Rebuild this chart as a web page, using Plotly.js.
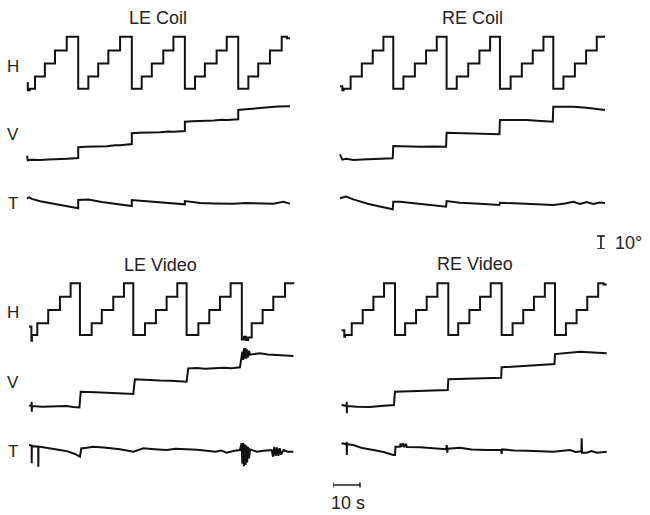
<!DOCTYPE html>
<html>
<head>
<meta charset="utf-8">
<script src="https://cdn.plot.ly/plotly-3.0.1.min.js"></script>
<style>html,body{margin:0;padding:0;background:#fff;}#chart{width:650px;height:515px;}</style>
</head>
<body>
<div id="chart"></div>
<script>
// ---------------- DATA (time in s, position in degrees) ----------------
// LE Coil
const leCoilH_t   = [0, 0.3, 1.0, 3.0, 6.7, 10.5, 14.9, 19.2, 23.0, 26.7, 30.5, 34.9, 39.3, 43.0, 46.8, 51.1, 54.9, 59.2, 63.0, 66.7, 71.1, 74.9, 79.2, 83.0, 86.7, 91.1, 95.5, 97.5, 98.6];
const leCoilH_deg = [-15, -20.5, -19.5, -10, 0, 10, 20.5, -19.5, -10, 0, 10, 20.5, -19.5, -10, 0, 10, 20.5, -19.5, -10, 0, 10, 20.5, -19.5, -10, 0, 10, 20.5, 19.5, 19.5];
const leCoilV_t   = [0, 0.3, 1.5, 5, 8, 10, 13, 15, 19.2, 19.2, 22, 25, 28, 30, 33, 35, 39.3, 39.3, 42, 45, 48, 50, 53, 55, 59.2, 59.2, 62, 65, 68, 70, 73, 75, 79.2, 79.2, 82, 86, 90, 94, 98.6];
const leCoilV_deg = [-17.5, -21, -20.5, -20.8, -20.4, -20.3, -20.0, -19.8, -19.2, -11, -10.6, -10.5, -10.0, -10.2, -9.4, -9.5, -8.5, -0.2, 0.2, 0.3, 0.8, 0.6, 1.2, 1.0, 1.5, 8.7, 9.1, 9.2, 9.7, 9.6, 10.2, 10.0, 10.5, 17.7, 18.2, 19.0, 19.8, 20.4, 20.6];
const leCoilT_t   = [0, 0.8, 1.8, 5, 10, 15, 19.2, 19.2, 21, 23, 28, 33, 39.3, 39.3, 43.6, 50, 59.2, 59.2, 65, 70, 77.4, 82, 87.4, 92.4, 96.1, 98.6];
const leCoilT_deg = [3.6, 4.3, 3.2, 1.4, -0.6, -2.4, -4.1, 2.3, 2.5, 2.6, 0.8, -0.8, -2.3, 2.3, 1.5, 0.2, -1.0, 1.5, 0, -0.3, -0.5, 0, 0, -0.5, 1.0, -0.5];

// RE Coil
const reCoilH_t   = [-0.4, 0.5, 1.0, 3.6, 7.8, 11.9, 15.9, 19.6, 23.4, 27.7, 31.9, 35.9, 39.6, 43.4, 47.7, 51.9, 55.9, 59.6, 63.6, 67.8, 71.9, 75.9, 79.6, 83.4, 87.7, 91.9, 95.9, 99.0];
const reCoilH_deg = [-17.5, -20.5, -19.5, -10, 0, 10, 20.5, -19.5, -10, 0, 10, 20.5, -19.5, -10, 0, 10, 20.5, -19.5, -10, 0, 10, 20.5, -19.5, -10, 0, 10, 20.5, 20.5];
const reCoilV_t   = [-0.4, 0.5, 2, 4.6, 8, 10.9, 15, 19.4, 19.6, 25, 29.6, 35, 39.4, 39.6, 45, 49.6, 55, 59.4, 59.6, 65, 69.6, 75, 79.4, 79.6, 84, 87.1, 92.1, 95.9, 99.0];
const reCoilV_deg = [-16.5, -20.5, -19.8, -20.8, -20.4, -20.3, -19.9, -19.5, -10, -10.4, -10.5, -10.3, -10.5, 0.2, -0.1, -0.3, -0.6, -1.0, 10, 10.2, 10, 9.3, 8.7, 20.2, 20.4, 20.2, 19.5, 18.2, 17.7];
const reCoilT_t   = [-0.4, 1.9, 4.6, 10, 15, 19.4, 19.6, 22.1, 30, 39.4, 39.6, 44.6, 52, 59.4, 59.6, 67.1, 75, 79.6, 84, 87.1, 89.6, 92.1, 94.6, 97, 99.0];
const reCoilT_deg = [3.6, 4.9, 2.8, -0.6, -2.9, -4.8, 1.0, 1.0, -0.8, -2.8, 1.5, 0.2, -0.6, -1.5, 0.2, -0.3, -0.8, -1.5, -0.3, 1.0, -0.8, 0.8, -0.8, 0.4, 0];

// LE Video
const leVidH_t   = [0, 0.9, 1.1, 3.1, 7.2, 11.6, 15.6, 19.1, 23.5, 27.3, 31.6, 35.6, 39.1, 43.5, 47.6, 51.6, 55.6, 59.1, 63.5, 67.6, 71.6, 75.6, 79.8, 80.6, 81.4, 82.2, 83.5, 87.6, 91.6, 96.0, 99.1];
const leVidH_deg = [-13, -24, -19.6, -10.6, -0.4, 9.8, 20.2, -19.6, -10.6, -0.4, 9.8, 20.2, -19.6, -10.6, -0.4, 9.8, 20.2, -19.6, -10.6, -0.4, 9.8, 20.2, -23, -21, -23.5, -21.5, -10.6, -0.4, 9.8, 20.2, 19.5];
const leVidV_t   = [0, 0.9, 1.0, 1.05, 1.1, 5, 7.9, 11, 14.1, 16.5, 18.9, 19.4, 22, 25, 29.1, 33, 36, 39.1, 39.7, 43, 46, 49.1, 53, 56, 59.1, 59.7, 63, 66, 69.1, 73, 76, 79.1, 80.0, 80.3, 80.6, 80.9, 81.2, 81.5, 81.8, 82.1, 82.5, 82.9, 86.6, 89.5, 92.9, 96, 99.1];
const leVidV_deg = [-18.0, -18.5, -15.2, -22.8, -18.5, -19.0, -19.0, -18.6, -18.5, -19.2, -19.5, -7.5, -7.9, -7.8, -8.2, -8.6, -8.8, -9.2, 2.1, 1.6, 1.7, 1.1, 0.9, 0.5, 0.2, 10.5, 10.8, 10.2, 10.5, 11.0, 10.6, 11.3, 23.3, 17, 26, 18, 26, 18, 25, 19, 24, 21, 22.1, 21.2, 20.8, 20.6, 20.0];
const leVidT_t   = [0, 0.9, 1.0, 1.02, 1.05, 3.45, 3.5, 3.55, 4.1, 8, 11.6, 14.5, 17.2, 19.1, 19.6, 20.4, 24.1, 28, 31, 34.1, 39.1, 42.9, 47, 51.6, 55, 59.1, 63, 66.6, 70, 72, 74.1, 77, 79.1, 79.7, 80.0, 80.3, 80.6, 80.9, 81.2, 81.5, 81.8, 82.1, 82.5, 82.9, 85.4, 88, 91, 91.5, 92, 92.5, 93, 93.5, 94, 94.5, 95.4, 97, 99.1];
const leVidT_deg = [5.4, 5.0, 5.0, -8.7, 4.5, 4.1, -11.3, 4.1, 4.1, 2.5, 1.5, 0.5, -1.5, -3.6, 2.8, 2.8, 4.1, 3.5, 3.0, 2.1, 0.2, 2.8, 2.2, 1.5, 2.5, 2.3, 1.8, 1.0, 0.2, 1.2, -0.5, 1.0, 1.5, 6.7, -9, 7, -11, 6, -10, 5, -8, 4, -5, 2, 0.2, 1.0, 1.5, -3.6, 4, -3, 3.5, -3, 3, -2, 1.5, 0.2, 0.2];

// RE Video
const reVidH_t   = [-0.7, 0.3, 0.6, 3.1, 7.2, 11.2, 15.2, 19.3, 23.1, 27.2, 31.2, 35.2, 39.3, 43.0, 47.2, 51.2, 55.2, 59.3, 63.4, 67.4, 71.4, 75.5, 79.3, 83.4, 87.4, 91.4, 95.5, 97.5, 98.7];
const reVidH_deg = [-16, -21, -19.6, -10.6, -0.4, 9.8, 20.2, -19.6, -10.6, -0.4, 9.8, 20.2, -19.6, -10.6, -0.4, 9.8, 20.2, -19.6, -10.6, -0.4, 9.8, 20.2, -19.6, -10.6, -0.4, 9.8, 20.2, 19.2, 19.2];
const reVidV_t   = [-0.7, 1.15, 1.2, 1.25, 1.3, 5, 9.9, 14, 18.9, 19.3, 24, 29, 34, 39.1, 39.3, 44, 49, 54, 59.1, 59.3, 64, 69, 74, 79.1, 79.3, 83.7, 88.7, 93.7, 98.7];
const reVidV_deg = [-17.7, -18.5, -15.2, -24.1, -18.5, -19.0, -19.2, -18.5, -17.7, -7.5, -7.2, -7.0, -6.6, -6.2, 2.1, 2.5, 2.8, 3.0, 3.3, 11.3, 12.0, 12.6, 13.2, 13.8, 21.5, 22.6, 23.3, 22.6, 22.1];
const reVidT_t   = [-0.7, 1.15, 1.2, 1.25, 1.3, 3.7, 7, 11.2, 15, 18.7, 19.3, 19.5, 21.2, 21.4, 21.6, 22.4, 22.6, 23.5, 23.7, 28.7, 33, 38.5, 38.7, 38.9, 39.1, 43.7, 48, 53.7, 59.1, 59.3, 59.5, 64, 68.7, 74, 78.7, 84.9, 87, 89.2, 89.3, 89.45, 91.2, 93, 95, 98.7];
const reVidT_deg = [6.7, 6, 7.9, -2.3, 6, 5.4, 3.0, 1.5, 0, -2.3, -2.3, 4.1, 4.1, 6.7, 4.1, 6.7, 3.8, 6.2, 3.8, 3.6, 2.8, 2.1, 5.4, -0.5, 2.5, 3.2, 2.0, 1.5, 1.8, -1.5, 2.0, 1.2, 1.0, 0.6, 0.2, 1.5, 0, 0.5, 10.5, -0.5, -0.5, 0.8, -0.5, 0.2];

// Scale bars
const timeBarSeconds = [0, 10];
const angleBarDegrees = [0, 10];

// Text
const panelTitles = ['LE Coil', 'RE Coil', 'LE Video', 'RE Video'];
const traceLabels = ['H', 'V', 'T'];
const timeBarLabel = '10 s';
const angleBarLabel = '10°';

// ---------------- LAYOUT GEOMETRY ----------------
const W = 650, HGT = 515;
const PX_PER_S = 2.667, PX_PER_DEG = 1.3;
const T_MIN = -2, T_MAX = 100, DEG_R = 30;
const panels = [
  {x0: 27,    centers: [63.5, 133, 203], title: [158, 18], labels: true,  lblY: [66, 134, 203]},
  {x0: 341,   centers: [63.5, 133, 203], title: [473, 18], labels: false},
  {x0: 29,    centers: [309.5, 382, 452], title: [160, 265], labels: true, lblY: [312, 382, 451]},
  {x0: 343.5, centers: [309.5, 382, 452], title: [475, 264], labels: false}
];
const series = [
  [[leCoilH_t, leCoilH_deg], [leCoilV_t, leCoilV_deg], [leCoilT_t, leCoilT_deg]],
  [[reCoilH_t, reCoilH_deg], [reCoilV_t, reCoilV_deg], [reCoilT_t, reCoilT_deg]],
  [[leVidH_t, leVidH_deg], [leVidV_t, leVidV_deg], [leVidT_t, leVidT_deg]],
  [[reVidH_t, reVidH_deg], [reVidV_t, reVidV_deg], [reVidT_t, reVidT_deg]]
];

const FONT = 'Liberation Sans, Arial, Helvetica, sans-serif';
const LINE = {color: '#111', width: 2};
const layout = {
  width: W, height: HGT, margin: {l: 0, r: 0, t: 0, b: 0},
  paper_bgcolor: '#fff', plot_bgcolor: 'rgba(0,0,0,0)', showlegend: false,
  annotations: [], font: {family: FONT, color: '#222'}
};
const traces = [];
const hidden = {visible: false, fixedrange: true, showgrid: false, zeroline: false};

let yi = 0;
panels.forEach((p, pi) => {
  const xn = pi + 1;
  const xKey = xn === 1 ? 'xaxis' : 'xaxis' + xn;
  const xRef = xn === 1 ? 'x' : 'x' + xn;
  layout[xKey] = Object.assign({}, hidden, {
    range: [T_MIN, T_MAX],
    domain: [(p.x0 + T_MIN * PX_PER_S) / W, (p.x0 + T_MAX * PX_PER_S) / W]
  });
  p.centers.forEach((c, ci) => {
    yi += 1;
    const yKey = yi === 1 ? 'yaxis' : 'yaxis' + yi;
    const yRef = yi === 1 ? 'y' : 'y' + yi;
    layout[yKey] = Object.assign({}, hidden, {
      range: [-DEG_R, DEG_R], anchor: xRef,
      domain: [1 - (c + DEG_R * PX_PER_DEG) / HGT, 1 - (c - DEG_R * PX_PER_DEG) / HGT]
    });
    if (ci === 0) layout[xKey].anchor = yRef;
    const [tx, ty] = series[pi][ci];
    traces.push({
      type: 'scatter', mode: 'lines', x: tx, y: ty, xaxis: xRef, yaxis: yRef,
      line: Object.assign({}, LINE, {shape: ci === 0 ? 'hv' : 'linear'}),
      hoverinfo: 'skip'
    });
    if (p.labels) {
      layout.annotations.push({text: traceLabels[ci], xref: 'paper', yref: 'paper',
        x: 13 / W, y: 1 - p.lblY[ci] / HGT, xanchor: 'center', yanchor: 'middle',
        showarrow: false, font: {size: 17, family: FONT, color: '#222'}});
    }
  });
  layout.annotations.push({text: panelTitles[pi], xref: 'paper', yref: 'paper',
    x: p.title[0] / W, y: 1 - p.title[1] / HGT, xanchor: 'center', yanchor: 'middle',
    showarrow: false, font: {size: 18, family: FONT, color: '#222'}});
});

// time scale bar
const tbX0 = 333.3, tbY = 485;
layout.xaxis5 = Object.assign({}, hidden, {range: [0, 100], domain: [tbX0 / W, (tbX0 + 100 * PX_PER_S) / W], anchor: 'y13'});
layout.yaxis13 = Object.assign({}, hidden, {range: [-5, 5], domain: [1 - (tbY + 5) / HGT, 1 - (tbY - 5) / HGT], anchor: 'x5'});
{
  const [a, b] = timeBarSeconds;
  traces.push({type: 'scatter', mode: 'lines', xaxis: 'x5', yaxis: 'y13', hoverinfo: 'skip',
    x: [a, a, null, a, b, null, b, b], y: [-2.5, 2.5, null, 0, 0, null, -2.5, 2.5],
    line: {color: '#222', width: 1.6}});
}
layout.annotations.push({text: timeBarLabel, xref: 'paper', yref: 'paper', x: 348 / W, y: 1 - 503 / HGT,
  xanchor: 'center', yanchor: 'middle', showarrow: false, font: {size: 18, family: FONT, color: '#222'}});

// angle scale bar
const abX = 601, abBottom = 249;
layout.xaxis6 = Object.assign({}, hidden, {range: [-5, 5], domain: [(abX - 5) / W, (abX + 5) / W], anchor: 'y14'});
layout.yaxis14 = Object.assign({}, hidden, {range: [0, 30], domain: [1 - abBottom / HGT, 1 - (abBottom - 30 * PX_PER_DEG) / HGT], anchor: 'x6'});
{
  const [a, b] = angleBarDegrees;
  traces.push({type: 'scatter', mode: 'lines', xaxis: 'x6', yaxis: 'y14', hoverinfo: 'skip',
    x: [-3.8, 3.8, null, 0, 0, null, -3.8, 3.8], y: [a, a, null, a, b, null, b, b],
    line: {color: '#222', width: 1.7}});
}
layout.annotations.push({text: angleBarLabel, xref: 'paper', yref: 'paper', x: 628 / W, y: 1 - 243 / HGT,
  xanchor: 'center', yanchor: 'middle', showarrow: false, font: {size: 18, family: FONT, color: '#222'}});

Plotly.newPlot('chart', traces, layout, {staticPlot: true, displayModeBar: false});
</script>
</body>
</html>
